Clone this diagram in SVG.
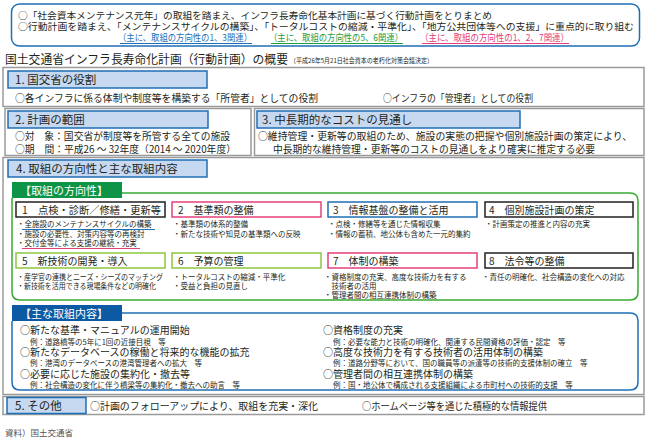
<svg xmlns="http://www.w3.org/2000/svg" width="649" height="444" viewBox="0 0 649 444">
<style>
text { font-family: "Noto Sans CJK JP", "Noto Sans", sans-serif; fill: #231f20; }
.top { font-size: 9.5px; }
.hdr { fill: #c6d9f0; stroke: #1f6fb5; stroke-width: 1.5; }
.sec { fill: #fff; stroke: #9a9a9a; stroke-width: 1.5; }
.h { font-size: 11.5px; }
.body { font-size: 9.8px; }
.lbl { font-size: 10px; }
.bul { font-size: 7.5px; }
.item { font-size: 10px; }
.ex { font-size: 7.5px; }
.box { fill: #fff; stroke-width: 1.5; }
.blk { stroke: #231f20; }
.pnk { stroke: #e4407a; }
.blu { stroke: #1f6fb5; }
.grn { stroke: #8dc63f; }
.tab { font-size: 11px; fill: #fff; }
</style>

<g id="summary">
  <rect x="11.5" y="4" width="628" height="42" rx="8" fill="#fff" stroke="#1f6fb5" stroke-width="1.5"/>
  <text class="top" x="18" y="18.5" textLength="474" lengthAdjust="spacingAndGlyphs">○「社会資本メンテナンス元年」の取組を踏まえ、インフラ長寿命化基本計画に基づく行動計画をとりまとめ</text>
  <text class="top" x="18" y="30" textLength="616" lengthAdjust="spacingAndGlyphs">○行動計画を踏まえ、「メンテナンスサイクルの構築」、「トータルコストの縮減・平準化」、「地方公共団体等への支援」に重点的に取り組む</text>
  <text class="top" x="118" y="41" textLength="134" lengthAdjust="spacingAndGlyphs" style="fill:#1f6fb5">（主に、取組の方向性の1、3関連）</text>
  <text class="top" x="269" y="41" textLength="134" lengthAdjust="spacingAndGlyphs" style="fill:#1e9e3e">（主に、取組の方向性の5、6関連）</text>
  <text class="top" x="420" y="41" textLength="149" lengthAdjust="spacingAndGlyphs" style="fill:#e4407a">（主に、取組の方向性の1、2、7関連）</text>
  <line x1="120" y1="43.5" x2="252" y2="43.5" stroke="#1f6fb5" stroke-width="1"/>
  <line x1="271" y1="43.5" x2="403" y2="43.5" stroke="#1e9e3e" stroke-width="1"/>
  <line x1="422" y1="43.5" x2="569" y2="43.5" stroke="#e4407a" stroke-width="1"/>
</g>

<g id="title">
  <text x="5" y="64" style="font-size:12px" textLength="283" lengthAdjust="spacingAndGlyphs">国土交通省インフラ長寿命化計画（行動計画）の概要</text>
  <text x="290" y="63" style="font-size:6.5px" textLength="143" lengthAdjust="spacingAndGlyphs">（平成26年5月21日社会資本の老朽化対策会議決定）</text>
</g>

<g id="section1">
  <rect class="sec" x="3" y="67.5" width="641" height="39"/>
  <rect class="hdr" x="8" y="71" width="199" height="17"/>
  <text class="h" x="15" y="84">1.  国交省の役割</text>
  <text class="body" x="15" y="102" textLength="303" lengthAdjust="spacingAndGlyphs">○各インフラに係る体制や制度等を構築する「所管者」としての役割</text>
  <text class="body" x="383" y="102" textLength="150" lengthAdjust="spacingAndGlyphs">○インフラの「管理者」としての役割</text>
</g>

<g id="section2">
  <rect class="sec" x="5" y="108.5" width="246" height="47"/>
  <rect class="hdr" x="8" y="111" width="200" height="17"/>
  <text class="h" x="15" y="124">2.  計画の範囲</text>
  <text class="body" x="15" y="139.5" textLength="215" lengthAdjust="spacingAndGlyphs">○対　象：国交省が制度等を所管する全ての施設</text>
  <text class="body" x="15" y="152.5" textLength="221" lengthAdjust="spacingAndGlyphs">○期　間：平成26 ～ 32年度（2014 ～ 2020年度）</text>
</g>

<g id="section3">
  <rect class="sec" x="254.5" y="108.5" width="389.5" height="47"/>
  <rect class="hdr" x="257" y="111" width="263" height="17"/>
  <text class="h" x="262" y="124">3.  中長期的なコストの見通し</text>
  <text class="body" x="258" y="139.5" textLength="374" lengthAdjust="spacingAndGlyphs">○維持管理・更新等の取組のため、施設の実態の把握や個別施設計画の策定により、</text>
  <text class="body" x="273" y="152.5" textLength="322" lengthAdjust="spacingAndGlyphs">中長期的な維持管理・更新等のコストの見通しをより確実に推定する必要</text>
</g>

<g id="section4">
  <rect class="sec" x="3" y="157.5" width="641" height="237"/>
  <rect class="hdr" x="8" y="160" width="199" height="17"/>
  <text class="h" x="16" y="173">4.  取組の方向性と主な取組内容</text>
</g>

<g id="directions-frame">
  <path d="M122,193 H630 Q638,193 638,201 V292 Q638,300 630,300 H20 Q12,300 12,292 V198" fill="none" stroke="#3aaa35" stroke-width="1.5"/>
  <rect x="12" y="182" width="110" height="16" fill="#0e9447"/>
  <text class="tab" x="20" y="194.5">【取組の方向性】</text>
</g>

<g id="dir1">
  <rect class="box blk" x="16" y="202" width="149" height="15"/>
  <text class="lbl" x="22" y="213.5" textLength="139" lengthAdjust="spacingAndGlyphs">1　点検・診断／修繕・更新等</text>
  <text class="bul" x="17" y="227">・全施設のメンテナンスサイクルの構築</text>
  <text class="bul" x="17" y="236.5">・施設の必要性、対策内容等の再検討</text>
  <text class="bul" x="17" y="246">・交付金等による支援の継続・充実</text>
  <line x1="22" y1="229.5" x2="155" y2="229.5" stroke="#1f6fb5" stroke-width="1"/>
  <line x1="22" y1="248.5" x2="140" y2="248.5" stroke="#e4407a" stroke-width="1"/>
</g>
<g id="dir2">
  <rect class="box pnk" x="172" y="202" width="149" height="15"/>
  <text class="lbl" x="178" y="213.5">2　基準類の整備</text>
  <text class="bul" x="173" y="227">・基準類の体系的整備</text>
  <text class="bul" x="173" y="236.5">・新たな技術や知見の基準類への反映</text>
</g>
<g id="dir3">
  <rect class="box blu" x="328" y="202" width="149" height="15"/>
  <text class="lbl" x="333" y="213.5">3　情報基盤の整備と活用</text>
  <text class="bul" x="328" y="227">・点検・修繕等を通じた情報収集</text>
  <text class="bul" x="328" y="236.5">・情報の蓄積、地公体も含めた一元的集約</text>
</g>
<g id="dir4">
  <rect class="box blk" x="485" y="202" width="148" height="15"/>
  <text class="lbl" x="489" y="213.5">4　個別施設計画の策定</text>
  <text class="bul" x="485" y="227">・計画策定の推進と内容の充実</text>
</g>
<g id="dir5">
  <rect class="box grn" x="16" y="253" width="149" height="15"/>
  <text class="lbl" x="22" y="264.5">5　新技術の開発・導入</text>
  <text class="bul" x="17" y="280" textLength="146" lengthAdjust="spacingAndGlyphs">・産学官の連携とニーズ・シーズのマッチング</text>
  <text class="bul" x="17" y="289" textLength="139" lengthAdjust="spacingAndGlyphs">・新技術を活用できる現場条件などの明確化</text>
</g>
<g id="dir6">
  <rect class="box grn" x="172" y="253" width="149" height="15"/>
  <text class="lbl" x="178" y="264.5">6　予算の管理</text>
  <text class="bul" x="173" y="280">・トータルコストの縮減・平準化</text>
  <text class="bul" x="173" y="289">・受益と負担の見直し</text>
</g>
<g id="dir7">
  <rect class="box pnk" x="328" y="253" width="149" height="15"/>
  <text class="lbl" x="333" y="264.5">7　体制の構築</text>
  <text class="bul" x="324" y="280">・資格制度の充実、高度な技術力を有する</text>
  <text class="bul" x="324" y="289">　技術者の活用</text>
  <text class="bul" x="324" y="298">・管理者間の相互連携体制の構築</text>
</g>
<g id="dir8">
  <rect class="box blk" x="485" y="253" width="148" height="15"/>
  <text class="lbl" x="489" y="264.5">8　法令等の整備</text>
  <text class="bul" x="482" y="280">・責任の明確化、社会構造の変化への対応</text>
</g>

<g id="main-actions">
  <path d="M122,313 H630 Q638,313 638,321 V382 Q638,390 630,390 H20 Q12,390 12,382 V321" fill="none" stroke="#1f6fb5" stroke-width="1.5"/>
  <rect x="12" y="305" width="110" height="16" fill="#0b5aa3"/>
  <text class="tab" x="20" y="317.5">【主な取組内容】</text>
  <text class="item" x="20" y="334">○新たな基準・マニュアルの運用開始</text>
  <text class="ex" x="30" y="344.5">例：道路橋等の5年に1回の近接目視　等</text>
  <text class="item" x="20" y="356">○新たなデータベースの稼働と将来的な機能の拡充</text>
  <text class="ex" x="30" y="366">例：港湾のデータベースの港湾管理者への拡大　等</text>
  <text class="item" x="20" y="378">○必要に応じた施設の集約化・撤去等</text>
  <text class="ex" x="30" y="388">例：社会構造の変化に伴う橋梁等の集約化・撤去への助言　等</text>
  <text class="item" x="323" y="334">○資格制度の充実</text>
  <text class="ex" x="333" y="344.5">例：必要な能力と技術の明確化、関連する民間資格の評価・認定　等</text>
  <text class="item" x="323" y="356">○高度な技術力を有する技術者の活用体制の構築</text>
  <text class="ex" x="333" y="366">例：道路分野等において、国の職員等の派遣等の技術的支援体制の確立　等</text>
  <text class="item" x="323" y="378">○管理者間の相互連携体制の構築</text>
  <text class="ex" x="333" y="388">例：国・地公体で構成される支援組織による市町村への技術的支援　等</text>
</g>

<g id="section5">
  <rect class="sec" x="3" y="396.5" width="641" height="18"/>
  <rect class="hdr" x="7" y="397.5" width="79" height="16"/>
  <text class="h" x="15" y="409.5">5.  その他</text>
  <text class="body" x="90" y="409.5" textLength="228" lengthAdjust="spacingAndGlyphs">○計画のフォローアップにより、取組を充実・深化</text>
  <text class="body" x="362" y="409.5" textLength="185" lengthAdjust="spacingAndGlyphs">○ホームページ等を通じた積極的な情報提供</text>
</g>

<g id="source">
  <text x="5" y="436" style="font-size:8.5px;fill:#555">資料）国土交通省</text>
</g>
</svg>
